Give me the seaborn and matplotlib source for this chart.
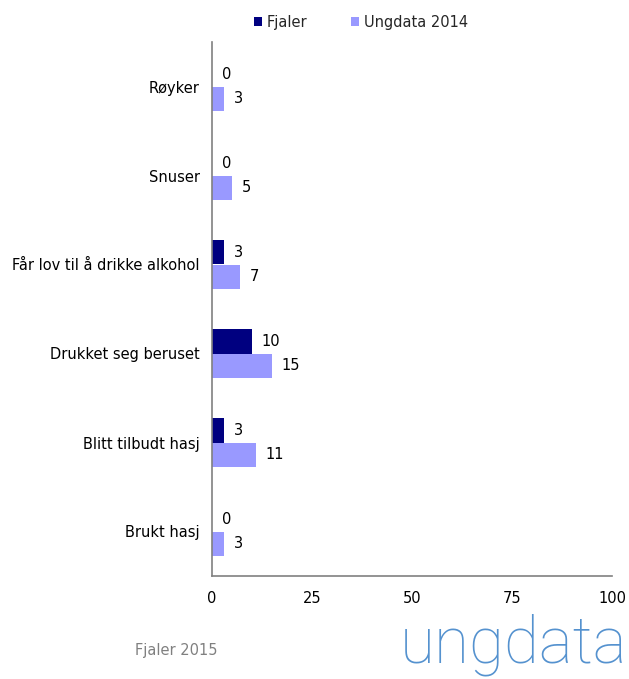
import matplotlib
matplotlib.use("Agg")
import matplotlib.pyplot as plt
import seaborn as sns
import pandas as pd
import numpy as np

categories = ["Røyker", "Snuser", "Får lov til å drikke alkohol",
              "Drukket seg beruset", "Blitt tilbudt hasj", "Brukt hasj"]
fjaler = [0, 0, 3, 10, 3, 0]
ungdata = [3, 5, 7, 15, 11, 3]
series_names = ["Fjaler", "Ungdata 2014"]
x_ticks = [0, 25, 50, 75, 100]

df = pd.DataFrame({
    "Kategori": categories * 2,
    "Verdi": fjaler + ungdata,
    "Serie": [series_names[0]] * len(categories) + [series_names[1]] * len(categories),
})

sns.set_style("white")
plt.rcParams["font.family"] = ["DejaVu Sans"]
FS = 10.5

fig = plt.figure(figsize=(6.29, 6.79), dpi=100)
ax = fig.add_axes([212 / 629, 1 - 576 / 679, 400 / 629, 534 / 679])

sns.barplot(data=df, y="Kategori", x="Verdi", hue="Serie", orient="h",
            palette=["#000080", "#9999FF"], width=0.55, ax=ax,
            saturation=1, errorbar=None, legend=True, linewidth=0)

ax.set_xlim(0, 100)
ax.set_ylim(len(categories) - 0.5, -0.5)
ax.set_xticks(x_ticks)
ax.set_xticklabels([str(t) for t in x_ticks], fontsize=FS)
ax.tick_params(axis="x", length=5, width=1, color="#808080", direction="out", pad=6,
               labelcolor="black")
ax.tick_params(axis="y", which="major", length=0, pad=9, labelsize=FS, labelcolor="black")
ax.set_yticks(np.arange(-0.5, len(categories), 1), minor=True)
ax.tick_params(axis="y", which="minor", length=5, width=1, color="#808080", direction="out")
ax.set_xlabel("")
ax.set_ylabel("")

for s in ["top", "right"]:
    ax.spines[s].set_visible(False)
for s in ["left", "bottom"]:
    ax.spines[s].set_color("#808080")
    ax.spines[s].set_linewidth(1.2)

for cont in ax.containers:
    ax.bar_label(cont, labels=[f"{v:g}" for v in cont.datavalues],
                 padding=7, fontsize=FS, color="black")

handles, labels = ax.get_legend_handles_labels()
ax.legend(handles, labels, loc="center", bbox_to_anchor=(361 / 629, 1 - 22 / 679),
          bbox_transform=fig.transFigure,
          ncol=2, frameon=False, fontsize=FS, handlelength=0.55, handleheight=0.55,
          columnspacing=3.0, handletextpad=0.35, borderpad=0)

fig.text(135 / 629, 1 - 650 / 679, "Fjaler 2015", fontsize=FS, color="#808080",
         va="center", ha="left")
fig.text(627 / 629, 1 - 663 / 679, "ungdata", fontsize=46, color="#5592CF",
         va="baseline", ha="right", family=["Roboto", "DejaVu Sans"], fontweight="light")

fig.savefig("out.png", dpi=100, facecolor="white")
